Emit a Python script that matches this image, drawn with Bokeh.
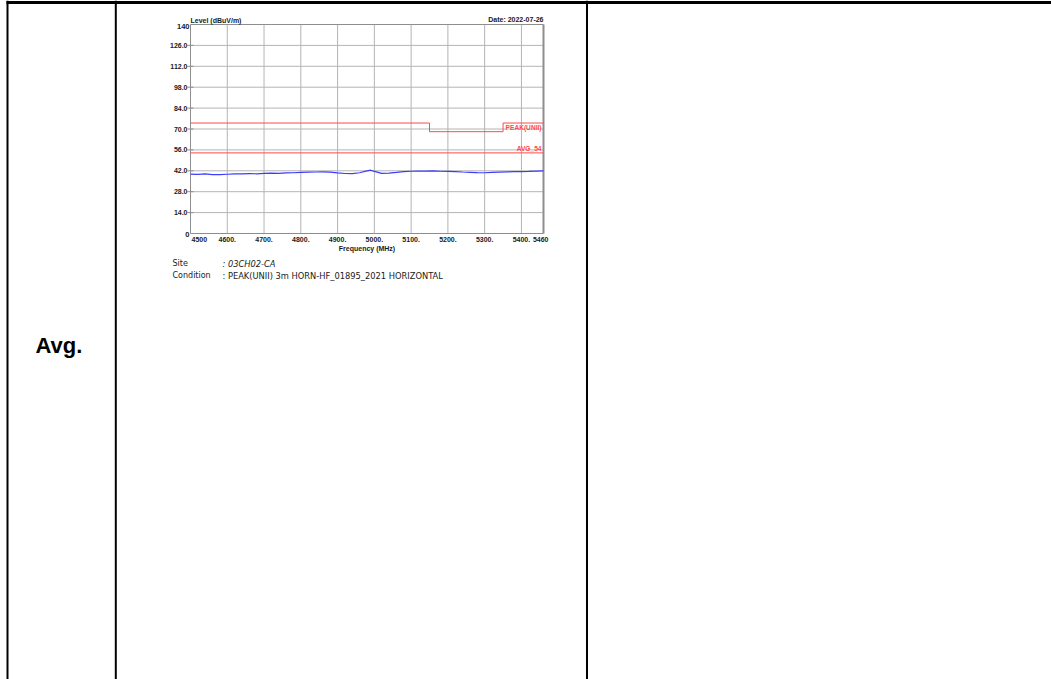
from bokeh.plotting import figure
from bokeh.models import Range1d
from bokeh.core.properties import value
from bokeh.embed import file_html
from bokeh.resources import INLINE

# ---------------- data ----------------
freq = [4500, 4520, 4540, 4560, 4580, 4600, 4620, 4640, 4660, 4680,
        4700, 4720, 4740, 4760, 4780, 4800, 4820, 4840, 4860, 4880,
        4900, 4920, 4940, 4960, 4980, 4990, 5000, 5020, 5040, 5060,
        5080, 5100, 5120, 5140, 5160, 5180, 5200, 5220, 5240, 5260,
        5280, 5300, 5320, 5340, 5360, 5380, 5400, 5420, 5440, 5460]
level = [39.8, 39.6, 39.9, 39.5, 39.4, 39.7, 39.9, 40.0, 40.1, 40.0,
         40.3, 40.4, 40.3, 40.6, 40.7, 40.9, 41.1, 41.2, 41.3, 41.1,
         40.6, 40.2, 40.1, 40.7, 42.0, 42.4, 41.6, 40.3, 40.5, 40.9,
         41.4, 41.7, 41.8, 41.8, 41.9, 41.7, 41.6, 41.5, 41.2, 41.0,
         40.8, 40.7, 40.9, 41.1, 41.3, 41.4, 41.5, 41.6, 41.8, 41.9]

peak_limit_freq = [4500, 5150, 5150, 5350, 5350, 5460]
peak_limit_level = [74, 74, 68.2, 68.2, 74, 74]
avg_limit_freq = [4500, 5460]
avg_limit_level = [54, 54]

y_ticks = [0, 14, 28, 42, 56, 70, 84, 98, 112, 126, 140]
y_tick_labels = ["0", "14.0", "28.0", "42.0", "56.0", "70.0", "84.0",
                 "98.0", "112.0", "126.0", "140"]
x_ticks = [4500, 4600, 4700, 4800, 4900, 5000, 5100, 5200, 5300, 5400, 5460]
x_tick_labels = ["4500", "4600.", "4700.", "4800.", "4900.", "5000.",
                 "5100.", "5200.", "5300.", "5400.", "5460"]

# ---------------- layout ----------------
W, H = 1051, 679
L, R, T, B = 190, 543, 24, 233
xmin, xmax, ymin, ymax = 4500, 5460, 0, 140
kx = (R - L) / (xmax - xmin)
ky = (B - T) / (ymax - ymin)

p = figure(width=W, height=H,
           x_range=Range1d(xmin - L / kx, xmax + (W - R) / kx),
           y_range=Range1d(ymin - (H - B) / ky, ymax + T / ky),
           output_backend="svg", toolbar_location=None,
           x_axis_location=None, y_axis_location=None, min_border=0)
p.grid.visible = False
p.outline_line_color = None
p.background_fill_color = "white"
p.extra_x_ranges = {"px": Range1d(0, W)}
p.extra_y_ranges = {"py": Range1d(H, 0)}

FONT = value("Liberation Sans")
GRID = "#b4b4b4"
FRAME = "#8e8e8e"
RED = "#ff4a4a"
TXT = "#1a1a1a"
FS = "7px"

# grid
vx = x_ticks[1:-1]
p.segment(x0=vx, y0=[ymin] * len(vx), x1=vx, y1=[ymax] * len(vx),
          line_color=GRID, line_width=1)
hy = y_ticks[1:-1]
p.segment(x0=[xmin] * len(hy), y0=hy, x1=[xmax] * len(hy), y1=hy,
          line_color=GRID, line_width=1)

# frame
p.segment(x0=[xmin, xmin, xmin], y0=[ymin, ymax, ymin],
          x1=[xmin, xmax, xmax], y1=[ymax, ymax, ymin],
          line_color=FRAME, line_width=1)
p.segment(x0=[xmax], y0=[ymin], x1=[xmax], y1=[ymax],
          line_color=FRAME, line_width=2)
p.scatter(x=[xmin] * len(y_ticks[1:-1]), y=y_ticks[1:-1], marker="dash",
          size=6, line_color=FRAME, line_width=1)

# limits
p.line(peak_limit_freq, peak_limit_level, line_color=RED, line_width=1)
p.line(avg_limit_freq, avg_limit_level, line_color=RED, line_width=1)
p.text(x=[xmax], y=[peak_limit_level[-1]], text=["PEAK(UNII)"],
       text_align="right", text_baseline="top", x_offset=-2, y_offset=1,
       text_font=FONT, text_font_style="bold", text_font_size="6.6px",
       text_color=RED)
p.text(x=[xmax], y=[avg_limit_level[-1]], text=["AVG_54"],
       text_align="right", text_baseline="bottom", x_offset=-2, y_offset=-1,
       text_font=FONT, text_font_style="bold", text_font_size="6.6px",
       text_color=RED)

# trace
p.line(freq, level, line_color="#3c3cff", line_width=1.2)

# y tick labels
mid_y = y_ticks[1:-1]
p.text(x=[xmin] * len(mid_y), y=mid_y, text=y_tick_labels[1:-1],
       text_align="right", text_baseline="middle", x_offset=-3,
       text_font=FONT, text_font_style="bold", text_font_size=FS,
       text_color=TXT)
p.text(x=[xmin, xmin], y=[y_ticks[0], y_ticks[-1]],
       text=[y_tick_labels[0], y_tick_labels[-1]],
       text_align="right", text_baseline="bottom", x_offset=-1, y_offset=[3, 4],
       text_font=FONT, text_font_style="bold", text_font_size="7.5px",
       text_color=TXT)

# x tick labels
aligns = ["left"] + ["center"] * (len(x_ticks) - 2) + ["right"]
xoffs = [1] + [0] * (len(x_ticks) - 2) + [5]
p.text(x=x_ticks, y=[ymin] * len(x_ticks), text=x_tick_labels,
       text_align=aligns, x_offset=xoffs, y_offset=6, text_baseline="middle",
       text_font=FONT, text_font_style="bold", text_font_size=FS,
       text_color=TXT)
p.text(x=[(xmin + xmax) / 2], y=[ymin], text=["Frequency (MHz)"],
       text_align="center", text_baseline="middle", y_offset=15,
       text_font=FONT, text_font_style="bold", text_font_size=FS,
       text_color=TXT)
p.text(x=[xmin], y=[ymax], text=["Level (dBuV/m)"],
       text_align="left", text_baseline="bottom", y_offset=-1,
       text_font=FONT, text_font_style="bold", text_font_size=FS,
       text_color=TXT)
p.text(x=[xmax], y=[ymax], text=["Date: 2022-07-26"],
       text_align="right", text_baseline="bottom", y_offset=-2,
       text_font=FONT, text_font_style="bold", text_font_size=FS,
       text_color=TXT)

# page decorations (pixel coordinates)
px = dict(x_range_name="px", y_range_name="py")
p.segment(x0=[6], y0=[2], x1=[W], y1=[2], line_color="black", line_width=3, **px)
p.segment(x0=[7, 115.3, 586.5], y0=[0, 0, 0], x1=[7, 115.3, 586.5], y1=[H, H, H],
          line_color="black", line_width=2, **px)
p.text(x=[35], y=[345], text=["Avg."], text_align="left", text_baseline="middle",
       text_font=FONT, text_font_style="bold", text_font_size="22px",
       text_color="black", **px)
info_font = value("DejaVu Sans")
p.text(x=[172, 172], y=[263, 275], text=["Site", "Condition"],
       text_align="left", text_baseline="middle", text_font=info_font,
       text_font_size="8px", text_color=TXT, **px)
p.text(x=[222], y=[263], text=[": 03CH02-CA"], text_align="left",
       text_baseline="middle", text_font=info_font, text_font_style="italic",
       text_font_size="8.3px", text_color=TXT, **px)
p.text(x=[222], y=[275], text=[": PEAK(UNII) 3m HORN-HF_01895_2021 HORIZONTAL"],
       text_align="left", text_baseline="middle", text_font=info_font,
       text_font_size="8.3px", text_color=TXT, **px)

open("out.html", "w").write(file_html(p, INLINE))
